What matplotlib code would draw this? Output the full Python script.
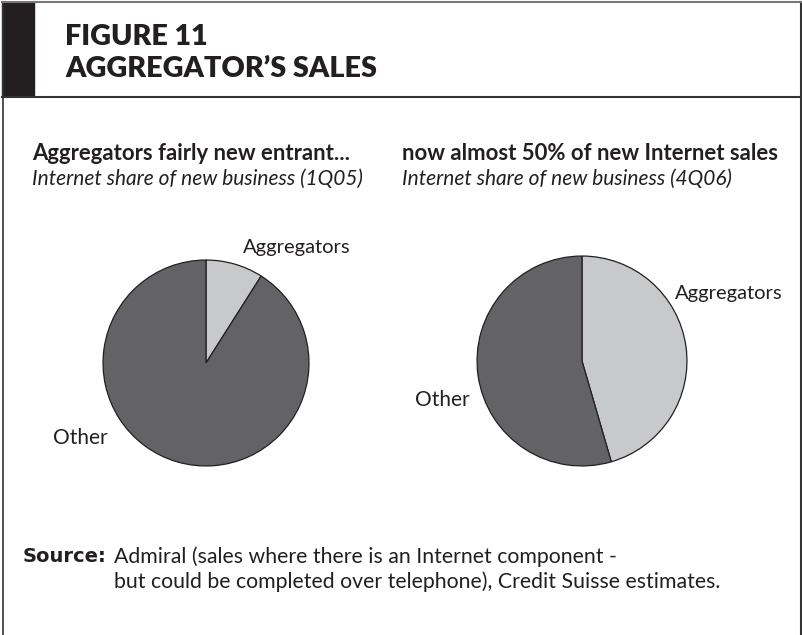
import matplotlib
matplotlib.use("Agg")
import matplotlib.pyplot as plt
from matplotlib.patches import Rectangle

# data
labels = ["Aggregators", "Other"]
share_1q05 = [9, 91]
share_4q06 = [45.5, 54.5]
colors = ["#c8c9cb", "#636365"]

W, H = 802, 635
plt.rcParams['font.family'] = ['Lato', 'DejaVu Sans']
ink = "#231f20"

fig = plt.figure(figsize=(W / 100, H / 100), dpi=100)
bg = fig.add_axes([0, 0, 1, 1])
bg.set_xlim(0, W)
bg.set_ylim(H, 0)
bg.axis("off")

# frame + header
bg.plot([3, 3], [2, H], color="#333333", lw=1.2)
bg.plot([800.5, 800.5], [2, H], color="#333333", lw=1.5)
bg.plot([2, 801], [2, 2], color="#777777", lw=1.5)
bg.plot([2, 801], [96.5, 96.5], color="#333333", lw=1.5)
bg.add_patch(Rectangle((2, 2), 32, 94, color=ink))
bg.text(65, 37, "FIGURE 11", fontsize=20.7, weight="heavy", va="center", color=ink)
bg.text(65, 69, "AGGREGATOR\u2019S SALES", fontsize=20.7, weight="heavy", va="center", color=ink)

# panel titles
bg.text(32, 154, "Aggregators fairly new entrant...", fontsize=15.9, weight="bold", va="center", color=ink)
bg.text(32, 179, "Internet share of new business (1Q05)", fontsize=15, style="italic", va="center", color=ink)
bg.text(402, 154, "now almost 50% of new Internet sales", fontsize=15.9, weight="bold", va="center", color=ink)
bg.text(402, 179, "Internet share of new business (4Q06)", fontsize=15, style="italic", va="center", color=ink)


def draw_pie(cx, cy, r, vals):
    ax = fig.add_axes([(cx - r) / W, (H - cy - r) / H, 2 * r / W, 2 * r / H])
    ax.pie(vals, colors=colors, startangle=90, counterclock=False,
           wedgeprops=dict(edgecolor=ink, linewidth=0.9))
    ax.set_xlim(-1.01, 1.01)
    ax.set_ylim(-1.01, 1.01)
    ax.axis("off")
    return ax


draw_pie(206, 363, 104, share_1q05)
draw_pie(582, 361, 106, share_4q06)

# slice labels
bg.text(297, 248, labels[0], fontsize=14.5, ha="center", va="center", color=ink)
bg.text(80, 438, labels[1], fontsize=15, ha="center", va="center", color=ink)
bg.text(729, 293, labels[0], fontsize=14.5, ha="center", va="center", color=ink)
bg.text(442, 400, labels[1], fontsize=15, ha="center", va="center", color=ink)

# source
bg.text(23, 557, "Source:", fontsize=14, weight="bold", family="DejaVu Sans", va="center", color=ink)
bg.text(114, 557, "Admiral (sales where there is an Internet component -", fontsize=15.3, va="center", color=ink)
bg.text(114, 582, "but could be completed over telephone), Credit Suisse estimates.", fontsize=15.3, va="center", color=ink)

fig.savefig("out.png", dpi=100)
